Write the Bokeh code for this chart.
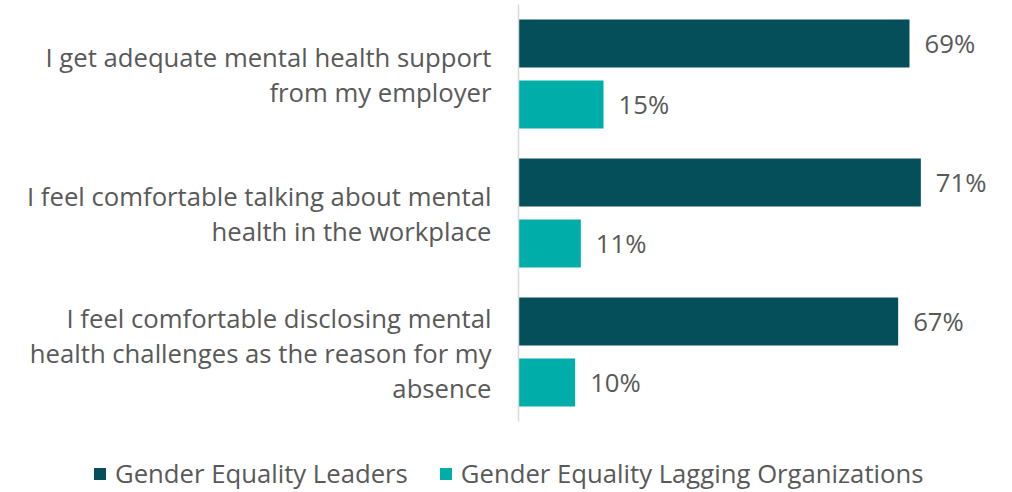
from bokeh.plotting import figure
from bokeh.models import ColumnDataSource, Range1d, Legend, LegendItem
from bokeh.core.properties import value
from bokeh.embed import file_html
from bokeh.resources import INLINE

categories = [
    "I get adequate mental health support\nfrom my employer",
    "I feel comfortable talking about mental\nhealth in the workplace",
    "I feel comfortable disclosing mental\nhealth challenges as the reason for my\nabsence",
]
series = ["Gender Equality Leaders", "Gender Equality Lagging Organizations"]
leaders = [69, 71, 67]
lagging = [15, 11, 10]
colors = ["#044F5A", "#00ADA9"]

FONT = "Open Sans"
FS = "25.7px"
TXT = "#595959"

W, H = 1012, 492
PX_PER_PCT = 391 / 69.0
ZERO_PX = 518
GROUP_PX = 139.0
TOP_PX = 73.5
x_range = Range1d(-ZERO_PX / PX_PER_PCT, (W - ZERO_PX) / PX_PER_PCT)
y_range = Range1d((H - TOP_PX) / GROUP_PX, -TOP_PX / GROUP_PX)

p = figure(width=W, height=H, x_range=x_range, y_range=y_range,
           output_backend="svg", toolbar_location=None,
           min_border=0, min_border_left=0, min_border_right=0,
           min_border_top=0, min_border_bottom=0)
p.axis.visible = False
p.grid.visible = False
p.outline_line_color = None
p.background_fill_color = "white"
p.border_fill_color = "white"

idx = list(range(len(categories)))
off = 30.5 / GROUP_PX
bh = 48 / GROUP_PX

src1 = ColumnDataSource(dict(y=[i - off for i in idx], v=leaders,
                             lab=[f"{v}%" for v in leaders]))
src2 = ColumnDataSource(dict(y=[i + off for i in idx], v=lagging,
                             lab=[f"{v}%" for v in lagging]))

r1 = p.hbar(y="y", left=0, right="v", height=bh, source=src1,
            fill_color=colors[0], line_color=None)
r2 = p.hbar(y="y", left=0, right="v", height=bh, source=src2,
            fill_color=colors[1], line_color=None)

for s in (src1, src2):
    p.text(x="v", y="y", text="lab", source=s, x_offset=15,
           text_align="left", text_baseline="middle",
           text_font=value(FONT), text_font_size=value(FS), text_color=TXT)

# axis line (category axis)
p.segment(x0=[0], x1=[0], y0=[-0.5], y1=[len(categories) - 0.5],
          line_color="#D9D9D9", line_width=1.5)

# category labels
LINE_PX = 35.0
lx, ly, lt = [], [], []
for i, cat in enumerate(categories):
    lines = cat.split("\n")
    n = len(lines)
    for j, ln in enumerate(lines):
        lx.append(0)
        ly.append(i + (j - (n - 1) / 2) * LINE_PX / GROUP_PX)
        lt.append(ln)
p.text(x=lx, y=ly, text=lt, x_offset=-27, y_offset=1, text_align="right",
       text_baseline="middle", text_font=value(FONT),
       text_font_size=value(FS), text_color=TXT)

legend = Legend(items=[LegendItem(label=series[0], renderers=[r1]),
                       LegendItem(label=series[1], renderers=[r2])],
                location=(92, 1), orientation="horizontal",
                glyph_width=15, glyph_height=15, label_standoff=8,
                spacing=30, padding=0, margin=0,
                border_line_color=None, background_fill_alpha=0,
                label_text_font=FONT, label_text_font_size=FS,
                label_text_color=TXT)
p.add_layout(legend)

open("out.html", "w").write(file_html(p, INLINE))
